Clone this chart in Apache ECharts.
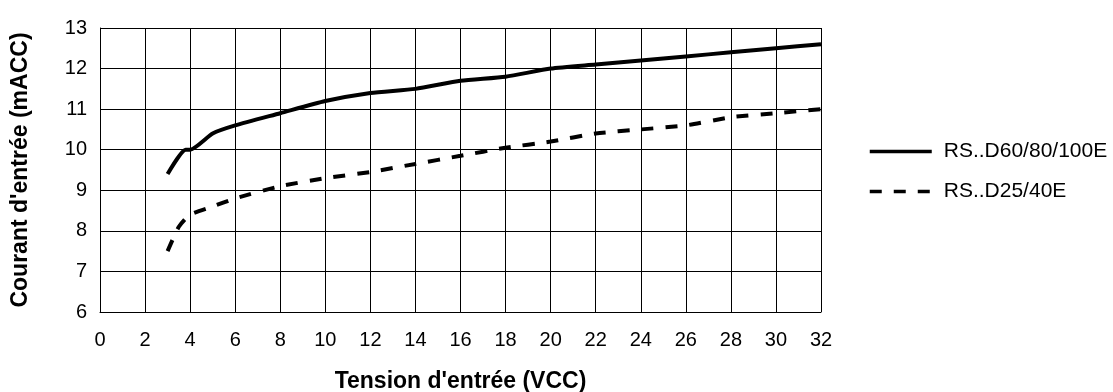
<!DOCTYPE html>
<html><head><meta charset="utf-8">
<script src="https://cdn.jsdelivr.net/npm/echarts@6/dist/echarts.min.js"></script>
<style>html,body{margin:0;padding:0;background:#fff}#c{width:1113px;height:392px}</style>
</head><body><div id="c"></div>
<script>
const xTicks = [0,2,4,6,8,10,12,14,16,18,20,22,24,26,28,30,32];
const seriesNames = ['RS..D60/80/100E', 'RS..D25/40E'];
const solidX = [3, 3.8, 4, 5, 6, 8, 10, 12, 14, 16, 18, 20, 22, 24, 26, 28, 30, 32];
const solidY = [9.4, 10.0, 10.0, 10.4, 10.6, 10.9, 11.2, 11.4, 11.5, 11.7, 11.8, 12.0, 12.1, 12.2, 12.3, 12.4, 12.5, 12.6];
const dashX = [3, 3.5, 4, 5, 6, 8, 10, 12, 14, 16, 18, 20, 22, 24, 26, 28, 30, 32];
const dashY = [7.5, 8.1, 8.4, 8.6, 8.8, 9.1, 9.3, 9.45, 9.65, 9.85, 10.05, 10.2, 10.4, 10.5, 10.6, 10.8, 10.9, 11.0];

const chart = echarts.init(document.getElementById('c'), null, {renderer: 'canvas'});
const font = 'Liberation Sans, Arial, sans-serif';
chart.setOption({
  animation: false,
  textStyle: {fontFamily: font},
  grid: {left: 100, right: 292, top: 28, bottom: 80, containLabel: false, outerBoundsMode: 'none'},
  legend: {
    orient: 'vertical', left: 868, top: 141, padding: 0, itemWidth: 62, itemHeight: 14, itemGap: 19,
    textStyle: {fontSize: 21, color: '#000', fontFamily: font, padding: [0, 0, 0, 7]},
    itemStyle: {opacity: 0},
    lineStyle: {width: 3.5},
    data: seriesNames
  },
  xAxis: {
    type: 'value', min: 0, max: 32, interval: 2,
    name: "Tension d'entrée (VCC)", nameLocation: 'middle', nameGap: 58,
    nameTextStyle: {fontSize: 23, fontWeight: 'bold', color: '#000'},
    axisLine: {lineStyle: {color: '#000', width: 1}},
    axisTick: {show: false},
    axisLabel: {fontSize: 20, color: '#000', margin: 18},
    splitLine: {show: true, lineStyle: {color: '#000', width: 1}}
  },
  yAxis: {
    type: 'value', min: 6, max: 13, interval: 1,
    name: "Courant d'entrée (mACC)", nameLocation: 'middle', nameGap: 68,
    nameTextStyle: {fontSize: 23, fontWeight: 'bold', color: '#000'},
    axisLine: {show: true, lineStyle: {color: '#000', width: 1}},
    axisTick: {show: false},
    axisLabel: {fontSize: 20, color: '#000', margin: 13},
    splitLine: {show: true, lineStyle: {color: '#000', width: 1}}
  },
  series: [
    {name: seriesNames[0], type: 'line', symbol: 'none', smooth: 0.2,
     lineStyle: {color: '#000', width: 4},
     itemStyle: {color: '#000'},
     data: solidX.map((x, i) => [x, solidY[i]])},
    {name: seriesNames[1], type: 'line', symbol: 'none', smooth: 0.2,
     lineStyle: {color: '#000', width: 4, type: [12, 12]},
     itemStyle: {color: '#000'},
     data: dashX.map((x, i) => [x, dashY[i]])}
  ]
});
</script></body></html>
